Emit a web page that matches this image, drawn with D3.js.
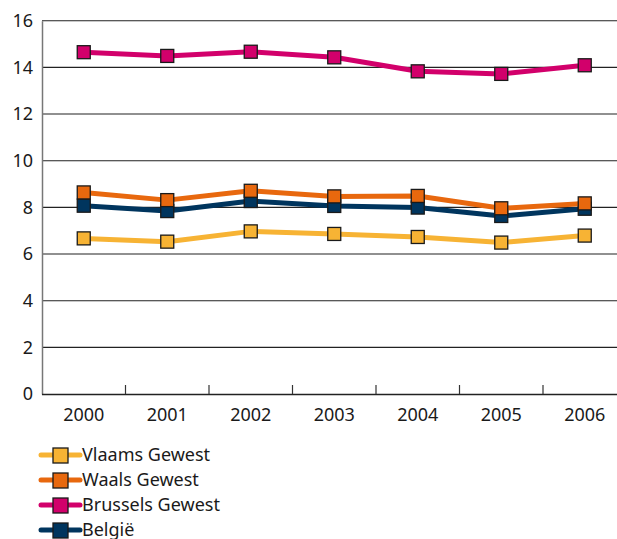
<!DOCTYPE html>
<html><head><meta charset="utf-8">
<script src="https://cdn.jsdelivr.net/npm/d3@7"></script>
<style>body{margin:0;background:#fff}svg{display:block}text{font-family:"Noto Sans",sans-serif;fill:#1a1a1a}</style>
</head><body><svg id="c" width="617" height="539"></svg>
<script>
const years = ["2000","2001","2002","2003","2004","2005","2006"];
const vlaams   = [6.67, 6.53, 6.97, 6.86, 6.73, 6.49, 6.79];
const waals    = [8.64, 8.31, 8.71, 8.47, 8.49, 7.96, 8.17];
const brussels = [14.65, 14.49, 14.67, 14.43, 13.83, 13.72, 14.09];
const belgie   = [8.07, 7.84, 8.27, 8.06, 7.99, 7.63, 7.94];
const seriesNames = ["Vlaams Gewest","Waals Gewest","Brussels Gewest","België"];
const yTicks = [0,2,4,6,8,10,12,14,16];

const colors = {"Vlaams Gewest":"#F7B334","Waals Gewest":"#E8680E","Brussels Gewest":"#D2006B","België":"#00355E"};
const series = [
  {name:"Vlaams Gewest", values:vlaams},
  {name:"Waals Gewest", values:waals},
  {name:"Brussels Gewest", values:brussels},
  {name:"België", values:belgie}
];

const svg = d3.select("#c");
const mLeft = 42, bandW = 83.5, mBottom = 394, mTop = 20.7;
const x = d3.scaleBand().domain(years).range([mLeft, mLeft + bandW*years.length]);
const y = d3.scaleLinear().domain([0,16]).range([mBottom, mTop]);

// gridlines
svg.append("g").selectAll("line").data(yTicks.filter(d=>d>0)).join("line")
  .attr("x1", mLeft).attr("x2", 617)
  .attr("y1", d=>y(d)).attr("y2", d=>y(d))
  .attr("stroke", "#222").attr("stroke-width", 1.1);

// y axis
const yAxis = svg.append("g").attr("transform",`translate(${mLeft},0)`)
  .call(d3.axisLeft(y).tickValues(yTicks).tickSize(0).tickPadding(9));
yAxis.select(".domain").attr("stroke","#777").attr("stroke-width",1.5);
yAxis.selectAll("text").style("font-size","18px").attr("fill","#1a1a1a");

// x axis
const xAxis = svg.append("g").attr("transform",`translate(0,${mBottom})`)
  .call(d3.axisBottom(x).tickSize(0).tickPadding(14));
xAxis.select(".domain").attr("d", `M${mLeft},0.5H617`).attr("stroke","#222").attr("stroke-width",1.3);
xAxis.selectAll("text").style("font-size","18px").attr("fill","#1a1a1a");
// tick marks between categories
svg.append("g").selectAll("line").data(years.slice(1)).join("line")
  .attr("x1", d=>x(d)).attr("x2", d=>x(d))
  .attr("y1", mBottom-9).attr("y2", mBottom)
  .attr("stroke","#333").attr("stroke-width",1.2);

const cx = d => x(d) + x.bandwidth()/2;
const line = d3.line().x((v,i)=>cx(years[i])).y(v=>y(v));
const ms = 13;

const drawOrder = ["België","Vlaams Gewest","Waals Gewest","Brussels Gewest"];
drawOrder.forEach(n=>{
  const s = series.find(s=>s.name===n);
  const g = svg.append("g");
  g.append("path").attr("d", line(s.values)).attr("fill","none")
    .attr("stroke", colors[n]).attr("stroke-width",5).attr("stroke-linejoin","round");
  g.selectAll("rect").data(s.values).join("rect")
    .attr("x",(v,i)=>cx(years[i])-ms/2).attr("y",v=>y(v)-ms/2)
    .attr("width",ms).attr("height",ms)
    .attr("fill",colors[n]).attr("stroke","#1a1a1a").attr("stroke-width",1.3);
});

// legend
const lg = svg.append("g");
seriesNames.forEach((n,i)=>{
  const yy = 455 + i*25;
  lg.append("line").attr("x1",41).attr("x2",80).attr("y1",yy).attr("y2",yy)
    .attr("stroke",colors[n]).attr("stroke-width",5).attr("stroke-linecap","round");
  lg.append("rect").attr("x",53).attr("y",yy-7).attr("width",15).attr("height",15)
    .attr("fill",colors[n]).attr("stroke","#1a1a1a").attr("stroke-width",1.3);
  lg.append("text").attr("x",82).attr("y",yy).attr("dy","0.36em")
    .style("font-size","18px").text(n);
});
</script></body></html>
